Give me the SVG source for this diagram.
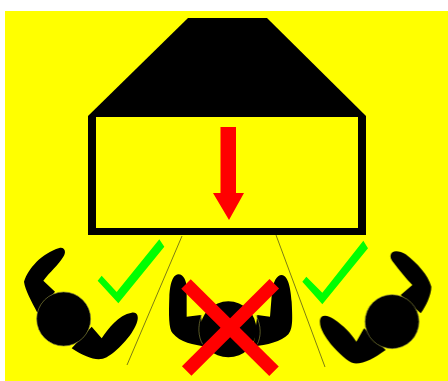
<svg xmlns="http://www.w3.org/2000/svg" width="448" height="381" viewBox="0 0 448 381">
<style>
.k{fill:#000}
.h{fill:#000;stroke:#85853a;stroke-width:2}
.g{fill:#0f0}
.r{fill:#f00}
.l{fill:none;stroke:#7d7d14;stroke-width:1}
.x{stroke:#f00;stroke-width:13.5;fill:none}
</style>
<defs><filter id="s" x="-5%" y="-5%" width="110%" height="110%"><feGaussianBlur stdDeviation="0.6"/></filter></defs>
<rect width="448" height="381" fill="#fff"/>
<rect x="5" y="11" width="443" height="370" fill="#ff0"/>
<g filter="url(#s)">
<g id="hood">
<polygon class="k" points="188,18 267,18 366,116 366,235 88,235 88,116"/>
<rect x="96" y="117" width="262" height="111" fill="#ff0"/>
<polygon class="r" points="220.500,127 236,127 236,193 244,193 229,220 213,193 220.500,193"/>
</g>
<g id="connectors">
<line class="l" x1="182" y1="236" x2="127" y2="365"/>
<line class="l" x1="276" y1="235" x2="325" y2="367"/>
</g>
<g id="person-left" transform="translate(0 220) scale(.33333)">
<path class="k" d="M178 84C194 81 200 95 190 110C175 135 150 155 130 182L165 215L112 278C95 245 75 210 72 185C85 145 125 100 178 84Z"/>
<path class="k" d="M215 385L275 320L305 355C325 325 355 285 395 278C412 275 418 290 410 310C395 350 350 395 320 412C295 425 260 415 215 385Z"/>
<circle class="h" cx="191" cy="297" r="81"/>
</g>
<g id="check-left" transform="translate(0 220) scale(.33333)">
<polygon class="g" points="305,167 350,216 478,58 493,80 355,250 293,182"/>
</g>
<g id="person-middle" transform="translate(160 265) scale(.33333)">
<path class="k" d="M55 28C72 28 80 50 80 70L80 155L122 150L140 245C100 240 60 232 38 205C26 190 26 150 28 95C30 65 35 30 55 28Z"/>
<path class="k" d="M365 30C385 32 392 70 395 110C398 170 398 190 385 208C365 230 320 240 280 245L292 150L330 155L336 80C340 50 350 30 365 30Z"/>
<circle class="k" cx="205" cy="193" r="84"/>
<path d="M125 150C112 185 115 215 128 238M288 150C305 185 303 215 292 238" fill="none" stroke="#85853a" stroke-width="2"/>
</g>
<g id="cross">
<line class="x" x1="186" y1="284" x2="274" y2="371.300"/>
<line class="x" x1="274.300" y1="283.700" x2="186.700" y2="371"/>
</g>
<g id="check-right" transform="translate(224 220) scale(.33333)">
<polygon class="g" points="247,170 295,218 418,62 432,85 295,253 235,185"/>
</g>
<g id="person-right" transform="translate(224 220) scale(.33333)">
<path class="k" d="M500 105C502 90 525 90 545 103C580 130 612 165 622 200C622 225 605 260 590 280L530 225L565 195C545 175 525 150 510 130C503 120 498 115 500 105Z"/>
<path class="k" d="M288 300C290 283 310 283 330 298C360 318 380 340 397 365L420 325L485 390C450 415 420 432 390 430C370 425 345 400 320 372C305 352 285 325 288 300Z"/>
<circle class="h" cx="504" cy="305" r="81"/>
</g>
</g>
</svg>
